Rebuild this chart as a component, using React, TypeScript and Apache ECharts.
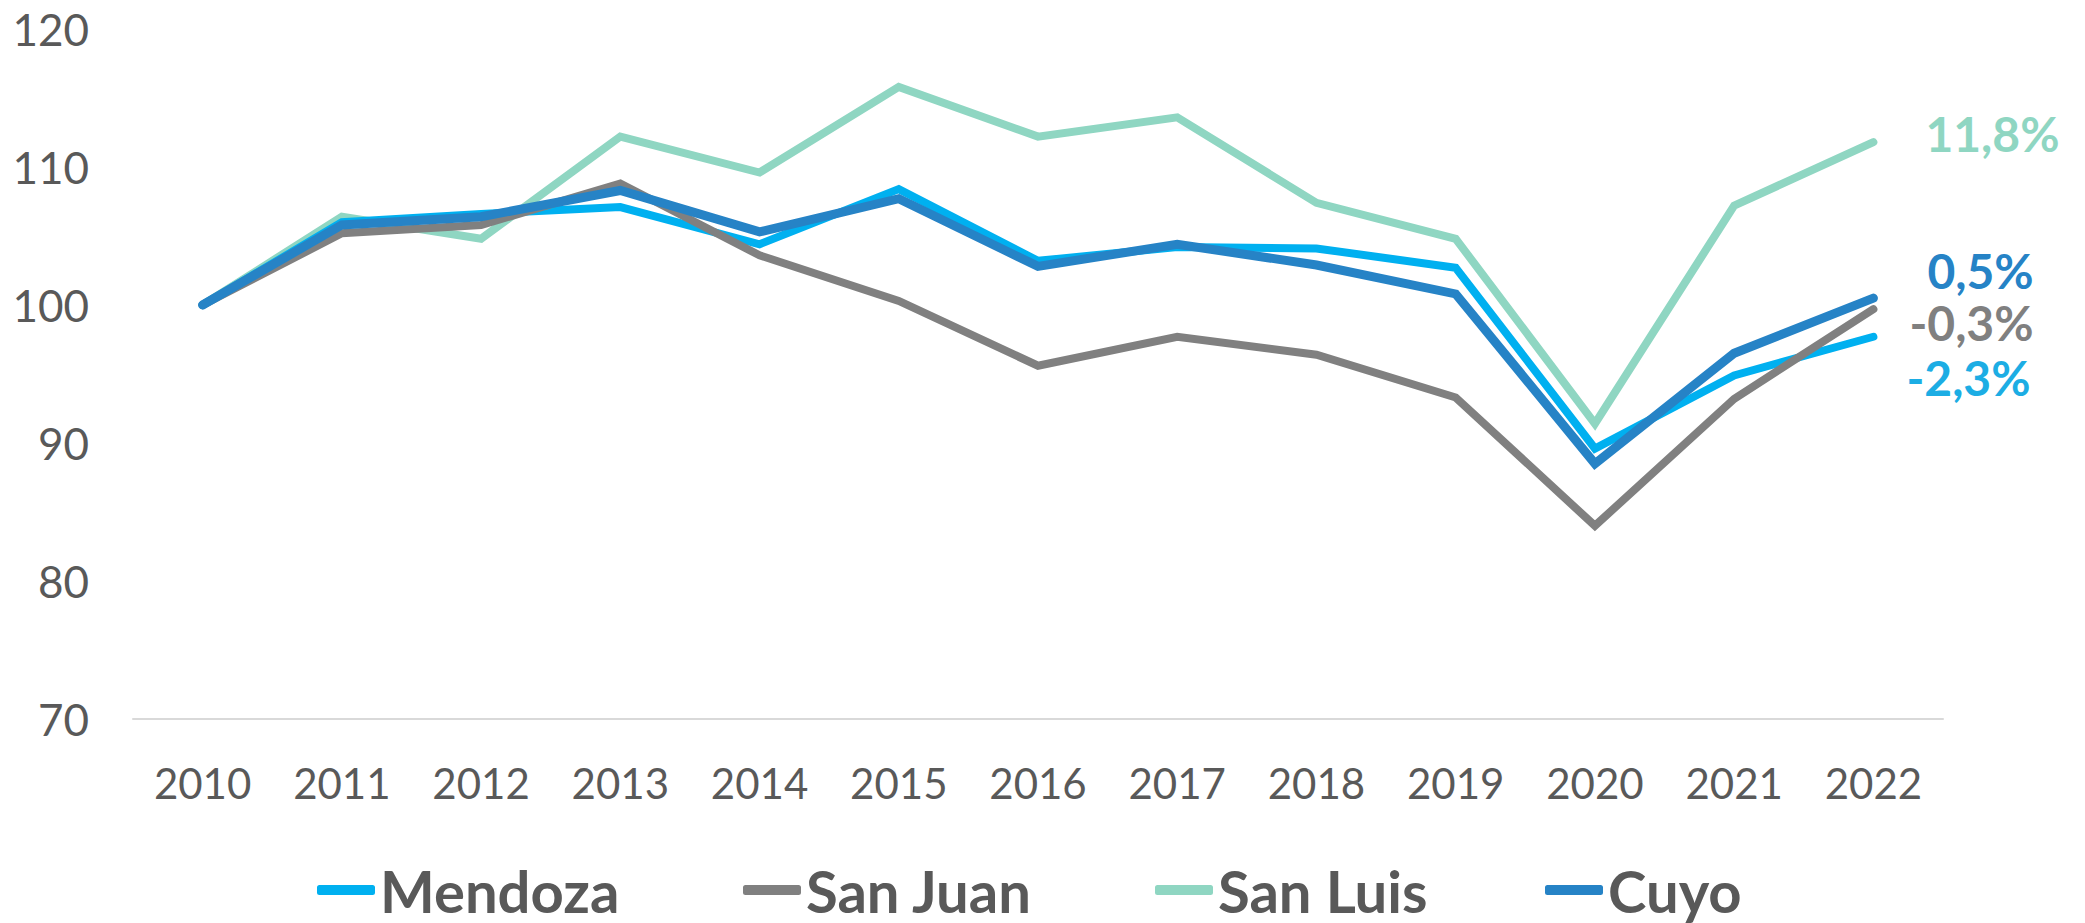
import React, { useEffect, useRef } from "react";
import * as echarts from "echarts";

const years = ["2010", "2011", "2012", "2013", "2014", "2015", "2016", "2017", "2018", "2019", "2020", "2021", "2022"];
const mendoza = [100, 106.0, 106.6, 107.1, 104.4, 108.4, 103.2, 104.2, 104.1, 102.7, 89.6, 94.9, 97.7];
const sanJuan = [100, 105.2, 105.8, 108.8, 103.6, 100.3, 95.6, 97.7, 96.4, 93.3, 84.0, 93.2, 99.7];
const sanLuis = [100, 106.4, 104.8, 112.2, 109.6, 115.8, 112.2, 113.6, 107.4, 104.8, 91.4, 107.2, 111.8];
const cuyo = [100, 105.8, 106.4, 108.3, 105.3, 107.7, 102.8, 104.4, 102.9, 100.8, 88.5, 96.5, 100.5];
const endLabels = ["-2,3%", "-0,3%", "11,8%", "0,5%"];

const FONT = "Lato, 'Open Sans', sans-serif";
const TEXT = "#595959";

export default function App() {
  const ref = useRef<HTMLDivElement>(null);
  useEffect(() => {
    document.body.style.margin = "0";
    if (!ref.current) return;
    const chart = echarts.init(ref.current, undefined, { renderer: "svg" });
    const mk = (name: string, data: number[], color: string, labelColor: string, label: string, width: number, z: number, off: number[]) => ({
      name,
      type: "line",
      data,
      z,
      symbol: "none",
      lineStyle: { color, width, cap: "round", join: "miter" },
      itemStyle: { color },
      endLabel: {
        show: true,
        formatter: () => label,
        color: labelColor,
        fontFamily: FONT,
        fontWeight: "bold",
        fontSize: 48,
        lineHeight: 44,
        distance: 0,
        offset: off,
      },
    });
    const legendBase = (name: string, left: number) => ({
      data: [name],
      left,
      top: 856,
      itemWidth: 58,
      itemHeight: 10,
      icon: "roundRect",
      textStyle: { fontFamily: FONT, fontWeight: "bold", fontSize: 58, color: TEXT },
      selectedMode: false,
    });
    chart.setOption({
      animation: false,
      backgroundColor: "#ffffff",
      grid: { left: 133, right: 142, top: 29, bottom: 204 },
      legend: [
        legendBase("Mendoza", 312),
        legendBase("San Juan", 738),
        legendBase("San Luis", 1150),
        legendBase("Cuyo", 1540),
      ],
      xAxis: {
        type: "category",
        data: years,
        boundaryGap: true,
        axisLine: { show: true, lineStyle: { color: "#D9D9D9", width: 2 } },
        axisTick: { show: false },
        axisLabel: { color: TEXT, fontFamily: FONT, fontSize: 42, margin: 43 },
        splitLine: { show: false },
      },
      yAxis: {
        type: "value",
        min: 70,
        max: 120,
        interval: 10,
        axisLine: { show: false },
        axisTick: { show: false },
        splitLine: { show: false },
        axisLabel: { color: TEXT, fontFamily: FONT, fontSize: 44, margin: 44 },
      },
      series: [
        mk("Mendoza", mendoza, "#00B0F0", "#1CADE4", endLabels[0], 8, 2, [33, 41]),
        mk("San Juan", sanJuan, "#808080", "#808080", endLabels[1], 8, 3, [36, 13]),
        mk("San Luis", sanLuis, "#8FD6C2", "#8FD6C2", endLabels[2], 8, 1, [52, -9]),
        mk("Cuyo", cuyo, "#2683C6", "#2683C6", endLabels[3], 9, 4, [54, -28]),
      ],
    });
    return () => chart.dispose();
  }, []);
  return <div ref={ref} style={{ width: 2085, height: 923 }} />;
}
